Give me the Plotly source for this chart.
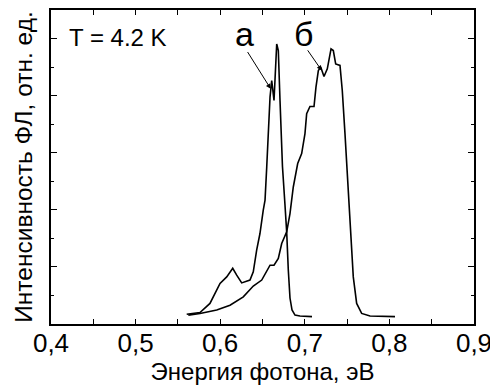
import plotly.graph_objects as go

# Curve "а"
energy_a = [0.5604, 0.5761, 0.5879, 0.5998, 0.6077, 0.6148, 0.6195, 0.6254, 0.6352,
            0.6391, 0.6431, 0.6470, 0.6509, 0.6530, 0.6550, 0.6569, 0.6589, 0.6609,
            0.6636, 0.6668, 0.6687, 0.6707, 0.6736, 0.6766, 0.6786, 0.6805, 0.6825,
            0.6849, 0.6884, 0.6943, 0.7085]
intens_a = [0.34, 0.40, 0.72, 1.42, 1.65, 1.95, 1.71, 1.44, 1.54,
            1.83, 2.59, 3.17, 3.99, 4.34, 5.50, 6.67, 7.95, 8.53,
            7.83, 9.81, 9.58, 7.83, 5.52, 4.16, 3.22, 1.89, 0.91,
            0.49, 0.31, 0.28, 0.26]

# Curve "б"
energy_b = [0.5623, 0.5761, 0.5959, 0.6116, 0.6273, 0.6391, 0.6491, 0.6550, 0.6589,
            0.6636, 0.6687, 0.6727, 0.6786, 0.6825, 0.6864, 0.6916, 0.6963, 0.7002,
            0.7022, 0.7061, 0.7109, 0.7132, 0.7160, 0.7188, 0.7227, 0.7266, 0.7310,
            0.7337, 0.7365, 0.7416, 0.7443, 0.7475, 0.7507, 0.7542, 0.7573, 0.7613,
            0.7672, 0.7771, 0.8066]
intens_b = [0.31, 0.37, 0.49, 0.66, 0.95, 1.33, 1.54, 1.83, 2.06,
            2.06, 2.30, 2.82, 3.23, 3.87, 4.80, 5.62, 5.97, 6.67,
            7.37, 7.62, 7.62, 8.30, 8.88, 9.00, 8.67, 8.94, 9.64,
            9.58, 9.11, 9.06, 8.18, 6.67, 4.92, 3.17, 1.65, 0.72,
            0.37, 0.28, 0.26]

FONT = "Liberation Sans, Arial, sans-serif"

fig = go.Figure()
fig.add_trace(go.Scatter(x=energy_a, y=intens_a, mode="lines",
                         line=dict(color="black", width=1.6), showlegend=False))
fig.add_trace(go.Scatter(x=energy_b, y=intens_b, mode="lines",
                         line=dict(color="black", width=1.6), showlegend=False))

# arrows
fig.add_annotation(x=0.6597, y=8.24, ax=0.6313, ay=9.58, axref="x", ayref="y",
                   xref="x", yref="y", text="", showarrow=True,
                   arrowhead=2, arrowsize=1, arrowwidth=1, arrowcolor="black")
fig.add_annotation(x=0.7200, y=8.88, ax=0.7022, ay=9.64, axref="x", ayref="y",
                   xref="x", yref="y", text="", showarrow=True,
                   arrowhead=2, arrowsize=1, arrowwidth=1, arrowcolor="black")
# labels
fig.add_annotation(x=0.6293, y=10.15, xref="x", yref="y", text="а", showarrow=False,
                   font=dict(family=FONT, size=34, color="black"))
fig.add_annotation(x=0.6979, y=10.15, xref="x", yref="y", text="б", showarrow=False,
                   font=dict(family=FONT, size=34, color="black"))
fig.add_annotation(x=0.4190, y=10.05, xref="x", yref="y", text="T = 4.2 K",
                   showarrow=False, xanchor="left",
                   font=dict(family=FONT, size=24, color="black"))

fig.update_layout(
    width=490, height=388,
    margin=dict(l=51, r=16, t=10, b=64, autoexpand=False),
    paper_bgcolor="white", plot_bgcolor="white",
    separators=", ",
    font=dict(family=FONT, color="black"),
)
fig.update_xaxes(
    range=[0.4, 0.9], dtick=0.1, tick0=0.4, tickformat=".1f",
    ticks="inside", ticklen=5, tickwidth=1, tickcolor="black",
    minor=dict(dtick=0.05, ticks="inside", ticklen=5, tickwidth=1, tickcolor="black"),
    showline=True, linecolor="black", linewidth=1.5, mirror="ticks",
    showgrid=False, zeroline=False, automargin=False,
    tickfont=dict(family=FONT, size=26, color="black"),
    ticklabeloverflow="allow", ticklabelstandoff=-5,
    title=dict(text="Энергия фотона, эВ", font=dict(family=FONT, size=24, color="black"),
               standoff=0),
)
fig.update_yaxes(
    range=[0, 11], dtick=2, tick0=0, showticklabels=False,
    ticks="inside", ticklen=6, tickwidth=1, tickcolor="black",
    minor=dict(dtick=1, ticks="inside", ticklen=3, tickwidth=1, tickcolor="black"),
    showline=True, linecolor="black", linewidth=1.5, mirror="ticks",
    showgrid=False, zeroline=False, automargin=False,
    title=dict(text="Интенсивность ФЛ, отн. ед.", font=dict(family=FONT, size=24.5, color="black"),
               standoff=10),
)

fig.write_html("out.html")
